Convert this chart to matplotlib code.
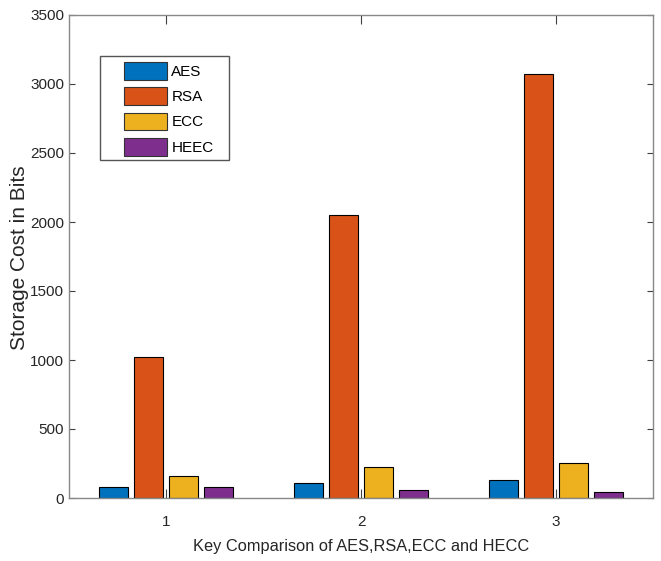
import numpy as np
import matplotlib.pyplot as plt
from matplotlib.patches import Rectangle

plt.rcParams['font.family'] = ['Liberation Sans', 'DejaVu Sans']

groups = [1, 2, 3]
series = ['AES', 'RSA', 'ECC', 'HEEC']
aes = [80, 112, 128]
rsa = [1024, 2048, 3072]
ecc = [160, 224, 256]
heec = [80, 56, 40]
values = [aes, rsa, ecc, heec]
colors = ['#0072BD', '#D95319', '#EDB120', '#7E2F8E']  # matlab defaults

W, H = 661, 561
fig = plt.figure(figsize=(W / 100, H / 100), dpi=100)
ax = fig.add_axes([69 / W, 63 / H, 584 / W, 483 / H])

x = np.array(groups)
offsets = [-0.27, -0.09, 0.09, 0.27]
for vals, name, col, off in zip(values, series, colors, offsets):
    ax.bar(x + off, vals, width=0.148, color=col, edgecolor='black', linewidth=0.8, label=name)

ax.set_xlim(0.5, 3.5)
ax.set_ylim(0, 3500)
ax.set_xticks(groups)
ax.set_yticks(np.arange(0, 3501, 500))
ax.tick_params(direction='in', top=True, right=True, labelsize=11,
               color='#404040', labelcolor='#262626')
ax.tick_params(axis='x', length=6.5, pad=12)
ax.tick_params(axis='y', length=4.3)
for s in ax.spines.values():
    s.set_color('#888888')
    s.set_linewidth(1.0)

ax.set_xlabel('Key Comparison of AES,RSA,ECC and HECC', fontsize=11.8, color='#262626')
ax.xaxis.label.set_va('center')
ax.xaxis.set_label_coords(0.5, -(547 - 498) / 483)
ax.set_ylabel('Storage Cost in Bits', fontsize=15, color='#262626')
ax.yaxis.label.set_va('center')
ax.yaxis.set_label_coords((20 - 69) / 584, 1 - (258 - 15) / 483)

# legend frame drawn separately (matlab-like padding)
ax.add_patch(Rectangle(((100 - 69) / 584, 1 - (160 - 15) / 483), 129 / 584, 104 / 483,
                       transform=ax.transAxes, facecolor='white', edgecolor='#555555',
                       linewidth=1.0, zorder=4))
leg = ax.legend(loc='upper left', bbox_to_anchor=((124 - 69) / 584, 1 - (62 - 15) / 483),
                frameon=False, fontsize=11, handlelength=2.8, handleheight=1.4,
                labelspacing=0.5, handletextpad=0.3, borderpad=0, borderaxespad=0)
leg.set_zorder(5)
for p in leg.get_patches():
    p.set_edgecolor('#333333')

fig.savefig('out.png', dpi=100)
